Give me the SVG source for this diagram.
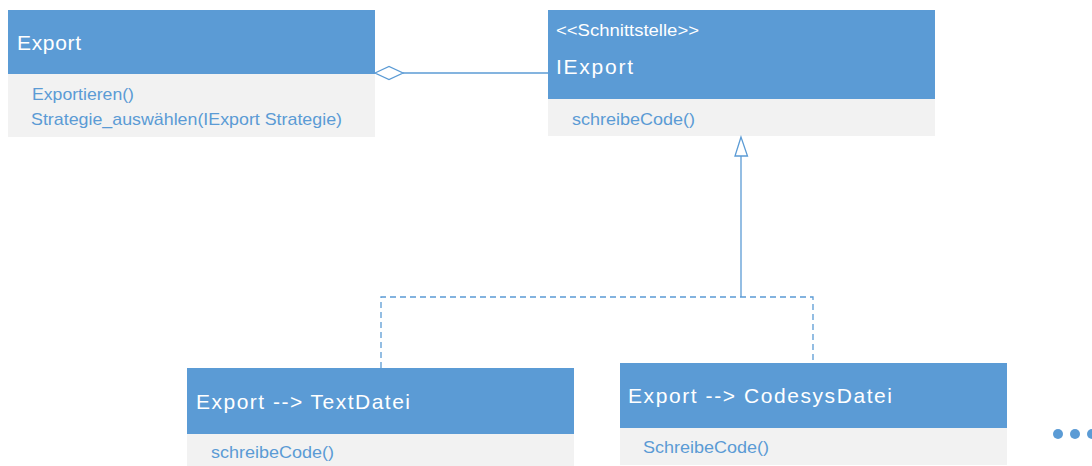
<svg xmlns="http://www.w3.org/2000/svg" width="1092" height="466" viewBox="0 0 1092 466">
  <style>
    .head { fill: #5B9BD5; }
    .body { fill: #F2F2F2; }
    .title { fill: #FFFFFF; font-family: "Liberation Sans", Arial, sans-serif; font-size: 21px; }
    .stereo { fill: #FFFFFF; font-family: "Liberation Sans", Arial, sans-serif; font-size: 16px; }
    .method { fill: #5B9BD5; font-family: "Liberation Sans", Arial, sans-serif; font-size: 17px; }
    .line { fill: none; stroke: #5B9BD5; stroke-width: 1.3; }
    .dash { stroke-dasharray: 6 4; }
  </style>

  <!-- class Export -->
  <g id="export">
    <rect class="head" x="8" y="10" width="367" height="64"/>
    <rect class="body" x="8" y="74" width="367" height="63"/>
    <text class="title" x="17" y="50" textLength="64" lengthAdjust="spacing">Export</text>
    <text class="method" x="32" y="100" textLength="102" lengthAdjust="spacingAndGlyphs">Exportieren()</text>
    <text class="method" x="31" y="125" textLength="311" lengthAdjust="spacingAndGlyphs">Strategie_auswählen(IExport Strategie)</text>
  </g>

  <!-- interface IExport -->
  <g id="iexport">
    <rect class="head" x="548" y="10" width="387" height="89"/>
    <rect class="body" x="548" y="99" width="387" height="37"/>
    <text class="stereo" x="556" y="36" textLength="143" lengthAdjust="spacingAndGlyphs">&lt;&lt;Schnittstelle&gt;&gt;</text>
    <text class="title" x="556" y="74" textLength="77" lengthAdjust="spacing">IExport</text>
    <text class="method" x="572" y="125" textLength="123" lengthAdjust="spacingAndGlyphs">schreibeCode()</text>
  </g>

  <!-- implementation for plain text files -->
  <g id="textdatei">
    <rect class="head" x="187" y="368" width="387" height="66"/>
    <rect class="body" x="187" y="434" width="387" height="32"/>
    <text class="title" x="196" y="409" textLength="214" lengthAdjust="spacing">Export --&gt; TextDatei</text>
    <text class="method" x="211" y="458" textLength="123" lengthAdjust="spacingAndGlyphs">schreibeCode()</text>
  </g>

  <!-- implementation for Codesys files -->
  <g id="codesysdatei">
    <rect class="head" x="620" y="363" width="387" height="65"/>
    <rect class="body" x="620" y="428" width="387" height="37"/>
    <text class="title" x="628" y="403" textLength="264" lengthAdjust="spacing">Export --&gt; CodesysDatei</text>
    <text class="method" x="643" y="453" textLength="126" lengthAdjust="spacingAndGlyphs">SchreibeCode()</text>
  </g>

  <!-- further implementations -->
  <g id="more" fill="#5B9BD5">
    <circle cx="1058" cy="434" r="5"/>
    <circle cx="1075" cy="434" r="5"/>
    <circle cx="1092" cy="434" r="5"/>
  </g>

  <!-- connectors -->
  <g id="connectors">
    <!-- aggregation between Export and IExport -->
    <path class="line" d="M403 73 H548"/>
    <path class="line" d="M375 73 L389 66.5 L403 73 L389 79.5 Z" fill="#FFFFFF"/>
    <!-- realization trunk with hollow triangle -->
    <path class="line" d="M741 156 V297"/>
    <path class="line" d="M741 137 L735 156 L747.5 156 Z" fill="#FFFFFF"/>
    <!-- dashed branches to the implementations -->
    <path class="line dash" d="M381 368 V297 H813 V363"/>
  </g>
</svg>
